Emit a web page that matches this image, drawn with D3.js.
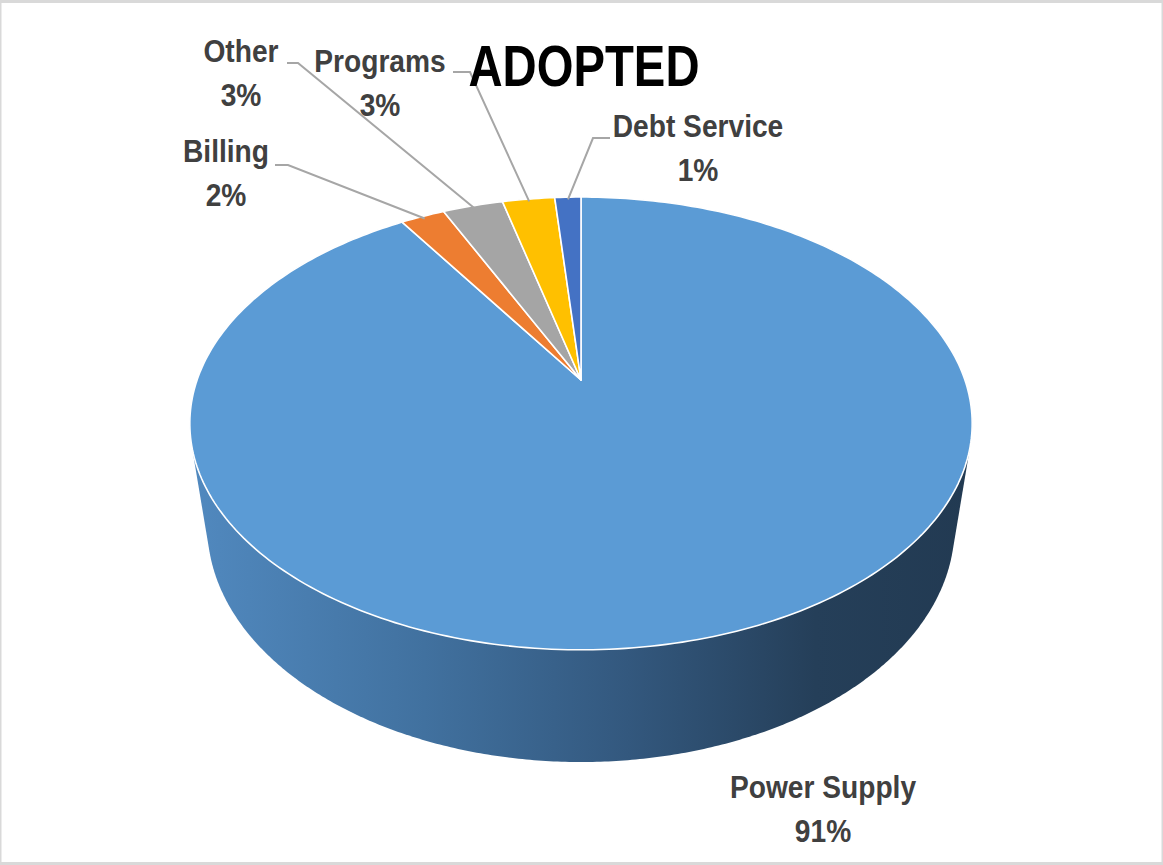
<!DOCTYPE html>
<html>
<head>
<meta charset="utf-8">
<script src="https://cdn.jsdelivr.net/npm/d3@7/dist/d3.min.js"></script>
<style>
  html, body { margin: 0; padding: 0; background: #fff; }
  svg { display: block; }
  .lbl { font-family: "Liberation Sans Narrow", "Arial Narrow", "Liberation Sans", sans-serif; font-weight: bold; fill: #404040; }
</style>
</head>
<body>
<svg id="chart" width="1163" height="865"></svg>
<script>
// ---- data ----
const title = "ADOPTED";
const categories = ["Power Supply", "Billing", "Other", "Programs", "Debt Service"];
const values = [90.9, 2.2, 3.0, 2.6, 1.3];
const colors = ["#5b9bd5", "#ed7d31", "#a5a5a5", "#ffc000", "#4472c4"];

// ---- layout ----
const W = 1163, H = 865;
const cx = 581, cy = 380;
const sinA = 0.568, cosA = Math.sqrt(1 - sinA * sinA);
const L = 4.29, f = 1647, depth = 0.3416;
const labelSX = 0.88, titleSX = 0.815;

// label layout: [centre x, first baseline y]
const labelLayout = {
  "Power Supply": [823, 798],
  "Billing": [226, 162],
  "Other": [241, 62],
  "Programs": [380, 72],
  "Debt Service": [698, 137]
};
// leader start/elbow points
const leaderLayout = {
  "Billing": [[275, 165], [288, 165]],
  "Other": [[287, 63], [298, 63]],
  "Programs": [[453, 72], [470, 72]],
  "Debt Service": [[610, 138], [593, 138]]
};

const svg = d3.select("#chart");

// frame
svg.append("rect").attr("x", 0).attr("y", 0).attr("width", W).attr("height", H).attr("fill", "#d9d9d9");
svg.append("rect").attr("x", 1.5).attr("y", 3).attr("width", W - 3).attr("height", H - 6).attr("fill", "#ffffff");

// perspective projection of a point on the cylinder: angle (clockwise from 12 o'clock), radius fraction, height (0 top, 1 bottom)
function proj(a, r = 1, h = 0) {
  const X = r * Math.sin(a), V = -r * Math.cos(a), Hh = -depth * h;
  const z = L - Hh * sinA - V * cosA;
  return [cx + f * X / z, cy + f * (V * sinA - Hh * cosA) / z];
}

const pie = d3.pie().sort(null).value(d => d.value).startAngle(0).endAngle(2 * Math.PI);
const data = categories.map((c, i) => ({ name: c, value: values[i], color: colors[i] }));
const arcs = pie(data);
const total = d3.sum(values);

// side (cylinder hull) with gradient
const defs = svg.append("defs");
const grad = defs.append("linearGradient").attr("id", "sideGrad")
  .attr("gradientUnits", "userSpaceOnUse").attr("x1", 190).attr("x2", 972).attr("y1", 0).attr("y2", 0);
[[0, "#5189bf"], [0.3, "#41719f"], [0.56, "#33587e"], [0.8, "#253f59"], [1, "#223a52"]]
  .forEach(([o, c]) => grad.append("stop").attr("offset", o).attr("stop-color", c));

const pts = [];
for (let i = 0; i < 720; i++) {
  const a = i / 720 * 2 * Math.PI;
  pts.push(proj(a, 1, 0));
  pts.push(proj(a, 1, 1));
}
const hull = d3.polygonHull(pts);
svg.append("path").attr("d", "M" + hull.map(p => p.join(",")).join("L") + "Z")
  .attr("fill", "url(#sideGrad)");

// top face slices
function slicePath(d) {
  const p = [[cx, cy]];
  const n = Math.max(4, Math.ceil((d.endAngle - d.startAngle) / (Math.PI / 180)));
  for (let i = 0; i <= n; i++) {
    p.push(proj(d.startAngle + (d.endAngle - d.startAngle) * i / n));
  }
  return "M" + p.map(q => q.join(",")).join("L") + "Z";
}
svg.append("g").selectAll("path").data(arcs).join("path")
  .attr("d", slicePath)
  .attr("fill", d => d.data.color)
  .attr("stroke", "#ffffff").attr("stroke-width", 1.6).attr("stroke-linejoin", "round");

// leader lines
svg.append("g").selectAll("path").data(arcs.filter(d => leaderLayout[d.data.name])).join("path")
  .attr("d", d => {
    const [s, e] = leaderLayout[d.data.name];
    const m = proj((d.startAngle + d.endAngle) / 2, 0.985);
    return "M" + s.join(",") + "L" + e.join(",") + "L" + m.join(",");
  })
  .attr("fill", "none").attr("stroke", "#a6a6a6").attr("stroke-width", 2);

// labels
const lg = svg.append("g");
arcs.forEach(d => {
  const [x, y] = labelLayout[d.data.name];
  const t = lg.append("text").attr("class", "lbl").attr("text-anchor", "middle").attr("font-size", 32)
    .attr("transform", `translate(${x},${y}) scale(${labelSX},1)`);
  t.append("tspan").attr("x", 0).attr("y", 0).text(d.data.name);
  t.append("tspan").attr("x", 0).attr("y", 44).text(Math.round(d.data.value / total * 100) + "%");
});

// title
svg.append("text").attr("transform", `translate(584,86) scale(${titleSX},1)`).attr("text-anchor", "middle")
  .attr("font-family", "'Liberation Sans Narrow', 'Arial Narrow', 'Liberation Sans', sans-serif")
  .attr("font-weight", "bold").attr("font-size", 58).attr("fill", "#000").text(title);
</script>
</body>
</html>
